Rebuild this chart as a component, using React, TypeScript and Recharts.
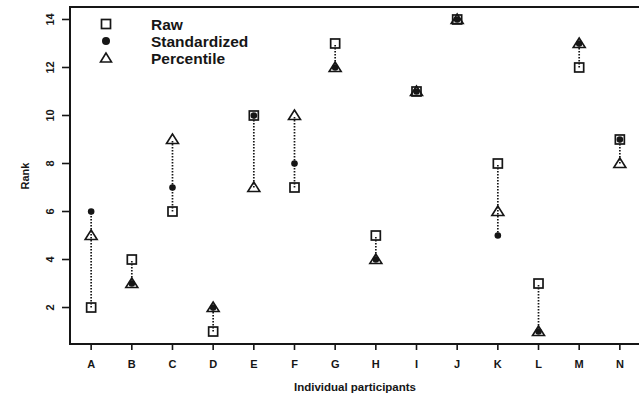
import React from 'react';
import { ComposedChart, Scatter, XAxis, YAxis, ReferenceLine, ReferenceArea, Customized } from 'recharts';

const participants = ['A', 'B', 'C', 'D', 'E', 'F', 'G', 'H', 'I', 'J', 'K', 'L', 'M', 'N'];
const raw = [2, 4, 6, 1, 10, 7, 13, 5, 11, 14, 8, 3, 12, 9];
const standardized = [6, 3, 7, 2, 10, 8, 12, 4, 11, 14, 5, 1, 13, 9];
const percentile = [5, 3, 9, 2, 7, 10, 12, 4, 11, 14, 6, 1, 13, 8];
const seriesNames = ['Raw', 'Standardized', 'Percentile'];
const yTicks = [2, 4, 6, 8, 10, 12, 14];

const INK = '#161616';
const FONT = '"Liberation Sans", Arial, sans-serif';
const DOMAIN: [number, number] = [0.48, 14.52];

const toPoints = (vals: number[]) => vals.map((v, i) => ({ x: i + 1, y: v }));
const rawData = toPoints(raw);
const stdData = toPoints(standardized);
const pctData = toPoints(percentile);
const xTicks = participants.map((_, i) => i + 1);

const Square = (props: any) => {
  const { cx, cy } = props;
  return <rect x={cx - 4.5} y={cy - 4.5} width={9} height={9} fill="none" stroke={INK} strokeWidth={1.7} />;
};
const Dot = (props: any) => {
  const { cx, cy } = props;
  return <circle cx={cx} cy={cy} r={3.3} fill={INK} stroke="none" />;
};
const Tri = (props: any) => {
  const { cx, cy } = props;
  return (
    <polygon
      points={`${cx},${cy - 5.5} ${cx - 6},${cy + 4} ${cx + 6},${cy + 4}`}
      fill="none"
      stroke={INK}
      strokeWidth={1.6}
      strokeLinejoin="miter"
    />
  );
};

const LegendBox = () => {
  const sx = 106;
  const ys = [24, 41, 58];
  return (
    <g>
      <rect x={sx - 4.5} y={ys[0] - 4.5} width={9} height={9} fill="none" stroke={INK} strokeWidth={1.7} />
      <circle cx={sx} cy={ys[1]} r={4} fill={INK} />
      <polygon points={`${sx},${ys[2] - 5} ${sx - 5.5},${ys[2] + 4} ${sx + 5.5},${ys[2] + 4}`} fill="none" stroke={INK} strokeWidth={1.6} />
      {seriesNames.map((n, i) => (
        <text key={n} x={151} y={ys[i] + 5.5} fontFamily={FONT} fontWeight="bold" fontSize={15.5} fill={INK}>
          {n}
        </text>
      ))}
    </g>
  );
};

const YTick = (props: any) => {
  const { x, y, payload } = props;
  const bx = 54;
  return (
    <text
      x={bx}
      y={y}
      transform={`rotate(-90, ${bx}, ${y})`}
      textAnchor="middle"
      fontFamily={FONT}
      fontWeight="bold"
      fontSize={11}
      fill={INK}
    >
      {payload.value}
    </text>
  );
};

export default function App() {
  return (
    <div style={{ position: 'absolute', left: 0, top: 0, width: 639, height: 397, overflow: 'hidden', background: '#fff' }}>
      <ComposedChart width={650} height={397} margin={{ top: 7, right: 9, bottom: 0, left: 0 }}>
        <XAxis
          type="number"
          dataKey="x"
          domain={DOMAIN}
          ticks={xTicks}
          allowDataOverflow
          interval={0}
          tickFormatter={(v: number) => participants[v - 1]}
          height={53}
          tickSize={6}
          tickMargin={10}
          axisLine={false}
          tickLine={{ stroke: INK, strokeWidth: 1.6 }}
          tick={{ fill: INK, fontFamily: FONT, fontWeight: 'bold', fontSize: 11 }}
          label={{
            content: () => (
              <text x={355} y={391} textAnchor="middle" fontFamily={FONT} fontWeight="bold" fontSize={11.5} fill={INK}>
                Individual participants
              </text>
            ),
          }}
        />
        <YAxis
          type="number"
          dataKey="y"
          domain={DOMAIN}
          ticks={yTicks}
          allowDataOverflow
          width={70}
          tickSize={8}
          axisLine={false}
          tickLine={{ stroke: INK, strokeWidth: 1.6 }}
          tick={<YTick />}
          label={{
            content: () => (
              <text x={29} y={176} transform="rotate(-90, 29, 176)" textAnchor="middle" fontFamily={FONT} fontWeight="bold" fontSize={11} fill={INK}>
                Rank
              </text>
            ),
          }}
        />
        <ReferenceArea x1={DOMAIN[0]} x2={DOMAIN[1]} y1={DOMAIN[0]} y2={DOMAIN[1]} fill="none" fillOpacity={0} stroke={INK} strokeWidth={2} ifOverflow="visible" />
        {participants.map((p, i) => {
          const vals = [raw[i], standardized[i], percentile[i]];
          const lo = Math.min(...vals);
          const hi = Math.max(...vals);
          if (lo === hi) return null;
          return (
            <ReferenceLine
              key={p}
              segment={[{ x: i + 1, y: lo }, { x: i + 1, y: hi }]}
              stroke={INK}
              strokeWidth={1.7}
              strokeDasharray="1.5 1.5"
              ifOverflow="visible"
            />
          );
        })}
        <Scatter name={seriesNames[0]} data={rawData} shape={<Square />} isAnimationActive={false} />
        <Scatter name={seriesNames[1]} data={stdData} shape={<Dot />} isAnimationActive={false} />
        <Scatter name={seriesNames[2]} data={pctData} shape={<Tri />} isAnimationActive={false} />
        <Customized component={<LegendBox />} />
      </ComposedChart>
    </div>
  );
}
